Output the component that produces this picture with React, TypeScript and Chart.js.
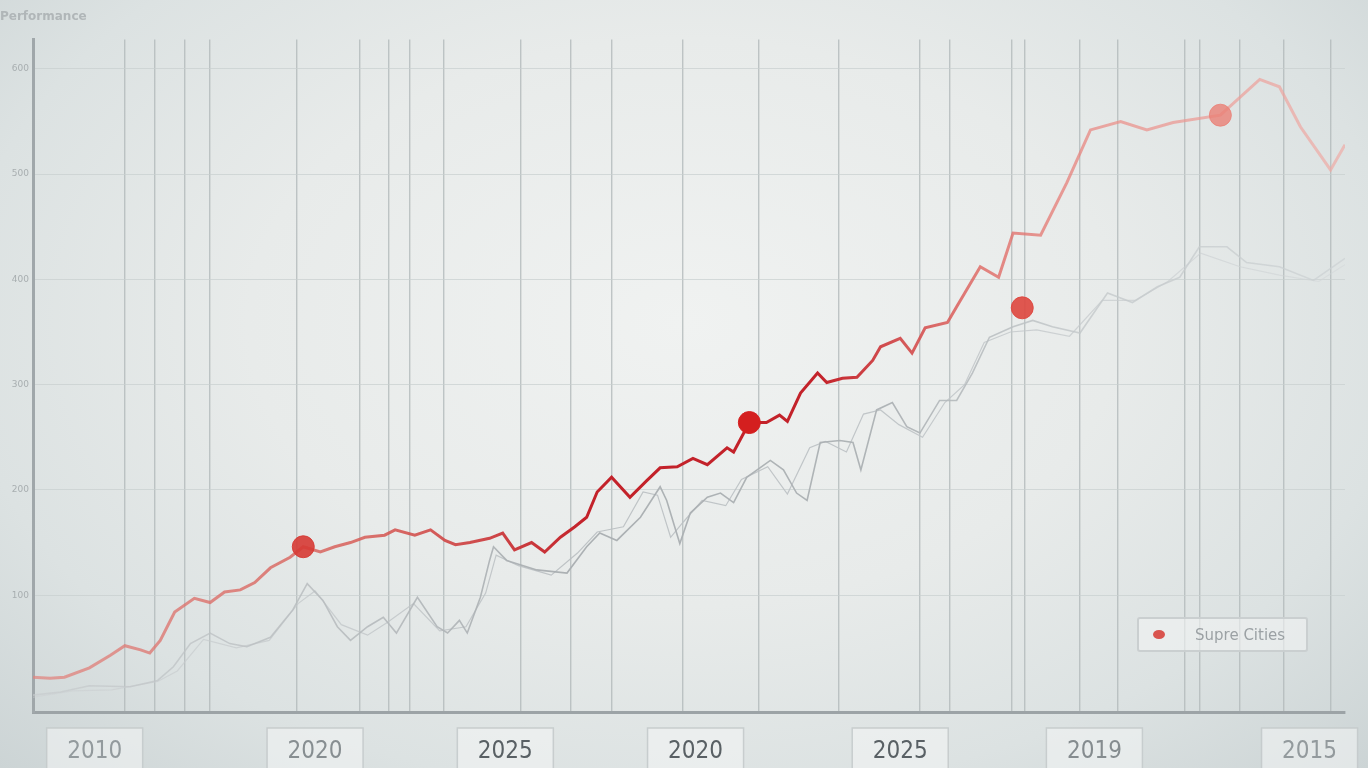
import React, { useEffect, useRef } from "react";
import { Chart, registerables } from "chart.js";

Chart.register(...registerables);

const seriesLabel = "Supre Cities";
const chartTitle = "Performance";

// x positions in a 0–100 time index, y values in index points
const redX = [0, 1.3, 2.4, 4.3, 5.9, 7.0, 8.2, 8.9, 9.7, 10.8, 12.3, 13.5, 14.6, 15.8, 16.9, 18.1, 19.6, 20.6, 21.9, 23.0, 24.2, 25.3, 26.8, 27.6, 29.1, 30.3, 31.4, 32.2, 33.3, 34.8, 35.8, 36.7, 38.0, 39.0, 40.2, 41.3, 42.2, 43.0, 44.1, 45.5, 46.8, 47.8, 49.1, 50.3, 51.4, 52.9, 53.4, 54.6, 55.9, 56.9, 57.5, 58.5, 59.8, 60.5, 61.7, 62.8, 64.0, 64.6, 66.1, 67.0, 68.0, 69.7, 70.4, 72.2, 73.6, 74.7, 76.8, 78.8, 80.6, 82.9, 84.9, 86.9, 90.5, 93.5, 95.0, 96.6, 98.9, 100];
const redY = [22, 21, 22, 31, 43, 52, 48, 45, 57, 84, 97, 93, 103, 105, 112, 126, 136, 146, 141, 146, 150, 155, 157, 162, 157, 162, 152, 148, 150, 154, 159, 143, 150, 141, 155, 165, 174, 198, 212, 193, 209, 221, 222, 230, 224, 240, 236, 264, 264, 271, 265, 292, 311, 302, 306, 307, 323, 336, 344, 330, 354, 359, 374, 412, 402, 444, 442, 492, 542, 550, 542, 549, 556, 590, 583, 545, 504, 528];

const grayX = [0, 2.1, 4.3, 7.4, 9.5, 10.7, 12.0, 13.5, 15.0, 16.3, 18.1, 19.8, 20.9, 22.1, 23.2, 24.2, 25.5, 26.7, 27.7, 29.3, 30.8, 31.6, 32.5, 33.1, 34.1, 34.8, 35.1, 36.1, 38.4, 40.7, 42.2, 43.2, 44.5, 46.3, 47.8, 48.3, 49.3, 50.1, 51.4, 52.4, 53.4, 54.4, 56.2, 57.2, 58.2, 59.0, 60.0, 61.5, 62.5, 63.1, 64.3, 65.5, 66.6, 67.6, 69.1, 70.4, 71.6, 72.9, 74.7, 76.2, 77.7, 79.8, 81.9, 83.8, 85.7, 87.4, 88.9, 91.0, 92.5, 95.0, 97.6, 100];
const grayY = [5, 8, 14, 13, 19, 32, 54, 64, 54, 51, 60, 86, 111, 95, 70, 57, 70, 79, 64, 98, 70, 64, 76, 64, 98, 133, 146, 133, 124, 121, 146, 159, 152, 174, 203, 190, 149, 178, 193, 197, 188, 212, 228, 219, 197, 190, 245, 247, 245, 219, 276, 283, 260, 254, 285, 285, 311, 345, 355, 361, 355, 349, 387, 378, 393, 402, 431, 431, 416, 412, 399, 420];

const gray2X = [0, 3, 6, 9.5, 11, 13, 15.5, 18, 20.2, 21.5, 23.5, 25.5, 27, 29, 31, 33, 34.5, 35.3, 37, 39.5, 41.5, 43, 45, 46.5, 47.6, 48.6, 49.6, 51, 52.8, 54, 56, 57.5, 59.2, 60.4, 62, 63.3, 64.6, 66, 67.8, 69.5, 71, 72.5, 74.5, 76.5, 79, 81.5, 84, 86.5, 89, 92, 95, 98, 100];
const gray2Y = [3, 9, 10, 18, 28, 58, 50, 57, 92, 104, 72, 62, 74, 92, 66, 70, 102, 138, 128, 119, 140, 160, 165, 198, 195, 155, 170, 190, 185, 210, 222, 196, 240, 246, 236, 272, 276, 262, 250, 283, 300, 340, 350, 352, 346, 380, 380, 398, 425, 412, 404, 398, 414];

const markerX = [20.6, 54.6, 75.4, 90.5];
const markerY = [146, 264, 373, 556];
const markerColors = ["rgba(214,58,52,0.9)", "#d41f1f", "rgba(222,70,62,0.9)", "rgba(234,128,118,0.8)"];

const gridX = [7.0, 9.3, 11.6, 13.5, 20.1, 24.9, 27.1, 28.7, 31.3, 37.2, 41.0, 44.1, 49.5, 55.3, 61.4, 67.6, 69.9, 74.6, 75.6, 79.8, 82.7, 87.8, 88.9, 92.0, 95.3, 98.9];
const labelX = [4.7, 21.5, 36.0, 50.5, 66.1, 80.9, 97.3];
const xLabels = ["2010", "2020", "2025", "2020", "2025", "2019", "2015"];
const xLabelColors = ["#939a9d", "#878e91", "#596064", "#596064", "#596064", "#858c8f", "#939a9d"];
const yTicks = [100, 200, 300, 400, 500, 600];

const toPts = (xs: number[], ys: number[]) => xs.map((x, i) => ({ x, y: ys[i] }));

function fadeGradient(chart: any, stops: [number, string][], fallback: string) {
  const area = chart.chartArea;
  if (!area) return fallback;
  const g = chart.ctx.createLinearGradient(area.left, 0, area.right, 0);
  stops.forEach(([o, c]) => g.addColorStop(o, c));
  return g;
}

const labelBoxes = {
  id: "labelBoxes",
  beforeDraw(chart: any) {
    const s = chart.scales.x2;
    if (!s) return;
    const ctx = chart.ctx;
    ctx.save();
    s.ticks.forEach((t: any) => {
      const x = s.getPixelForValue(t.value);
      ctx.fillStyle = "rgba(244,246,245,0.55)";
      ctx.strokeStyle = "rgba(196,202,203,0.9)";
      ctx.lineWidth = 1.5;
      ctx.beginPath();
      ctx.rect(x - 48, s.top + 16, 96, 44);
      ctx.fill();
      ctx.stroke();
    });
    ctx.restore();
  },
};

export default function App() {
  const ref = useRef<HTMLCanvasElement | null>(null);

  useEffect(() => {
    if (!ref.current) return;
    const chart = new Chart(ref.current, {
      type: "line",
      data: {
        datasets: [
          {
            label: "markers",
            data: toPts(markerX, markerY),
            showLine: false,
            pointRadius: 11,
            pointHoverRadius: 11,
            pointBackgroundColor: markerColors,
            pointBorderColor: markerColors,
            order: 0,
          } as any,
          {
            label: seriesLabel,
            data: toPts(redX, redY),
            borderWidth: 3,
            pointRadius: 0,
            tension: 0,
            borderColor: (c: any) =>
              fadeGradient(c.chart, [
                [0, "rgba(226,132,126,0.72)"],
                [0.25, "rgba(214,88,82,0.82)"],
                [0.42, "#c3222a"],
                [0.6, "#c3222a"],
                [0.72, "rgba(222,100,95,0.8)"],
                [0.82, "rgba(234,140,134,0.72)"],
                [1, "rgba(240,168,162,0.65)"],
              ], "#c3222a"),
            order: 1,
          } as any,
          {
            label: "gray1",
            data: toPts(grayX, grayY),
            borderWidth: 1.6,
            pointRadius: 0,
            tension: 0,
            borderColor: (c: any) =>
              fadeGradient(c.chart, [
                [0, "rgba(200,204,206,0.7)"],
                [0.4, "rgba(168,173,176,0.95)"],
                [0.65, "rgba(172,177,180,0.95)"],
                [0.8, "rgba(195,200,202,0.8)"],
                [1, "rgba(205,210,212,0.75)"],
              ], "#b0b5b8"),
            order: 2,
          } as any,
          {
            label: "gray2",
            data: toPts(gray2X, gray2Y),
            borderWidth: 1.2,
            pointRadius: 0,
            tension: 0,
            borderColor: (c: any) =>
              fadeGradient(c.chart, [
                [0, "rgba(205,209,211,0.6)"],
                [0.4, "rgba(185,190,193,0.9)"],
                [0.65, "rgba(188,193,196,0.9)"],
                [1, "rgba(210,214,216,0.55)"],
              ], "#bcc1c4"),
            order: 3,
          } as any,
        ],
      },
      options: {
        responsive: false,
        animation: false,
        layout: { padding: { left: 0, right: 23, top: 0, bottom: 0 } },
        plugins: {
          legend: { display: false },
          tooltip: { enabled: false },
          title: {
            display: true,
            text: chartTitle,
            align: "start",
            color: "#b0b6b8",
            font: { family: "DejaVu Sans", size: 12 },
            padding: { top: 10, bottom: 15 },
          },
        },
        scales: {
          x: {
            type: "linear",
            min: 0,
            max: 100,
            afterBuildTicks: (s: any) => {
              s.ticks = gridX.map((v) => ({ value: v }));
            },
            afterFit: (s: any) => {
              s.height = 0;
            },
            ticks: { display: false },
            grid: { color: "rgba(178,185,186,0.8)", lineWidth: 1.4, drawTicks: false },
            border: { color: "#9ca3a6", width: 3 },
          },
          x2: {
            type: "linear",
            position: "bottom",
            min: 0,
            max: 100,
            afterBuildTicks: (s: any) => {
              s.ticks = labelX.map((v) => ({ value: v }));
            },
            afterFit: (s: any) => {
              s.height = 56;
            },
            grid: { display: false },
            border: { display: false },
            ticks: {
              autoSkip: false,
              maxRotation: 0,
              padding: 17,
              color: xLabelColors,
              font: { family: "DejaVu Sans Condensed", size: 24 },
              callback: (_v: any, i: number) => xLabels[i],
            },
          } as any,
          y: {
            type: "linear",
            min: -11,
            max: 628,
            afterBuildTicks: (s: any) => {
              s.ticks = yTicks.map((v) => ({ value: v }));
            },
            afterFit: (s: any) => {
              s.width = 33;
            },
            ticks: {
              color: "#a8aeb0",
              font: { family: "DejaVu Sans", size: 9 },
              padding: 4,
            },
            grid: { color: "rgba(200,206,206,0.7)", lineWidth: 1, drawTicks: false },
            border: { color: "#a0a7aa", width: 3 },
          },
        },
      },
      plugins: [labelBoxes],
    } as any);
    return () => chart.destroy();
  }, []);

  return (
    <div
      style={{
        position: "fixed",
        left: 0,
        top: 0,
        width: 1368,
        height: 768,
        background:
          "radial-gradient(ellipse at 50% 42%, #f0f2f1 0%, #e8ebea 45%, #dce2e2 75%, #ccd4d5 100%)",
        overflow: "hidden",
      }}
    >
      <canvas ref={ref} width={1368} height={768} style={{ display: "block" }} />
      <div
        style={{
          position: "absolute",
          left: 1137,
          top: 617,
          width: 171,
          height: 35,
          boxSizing: "border-box",
          border: "2px solid rgba(200,206,207,0.95)",
          borderRadius: 3,
          background: "rgba(242,244,243,0.6)",
          display: "flex",
          alignItems: "center",
          fontFamily: "'DejaVu Sans', sans-serif",
          fontSize: 15,
          color: "#9ba1a4",
        }}
      >
        <span
          style={{
            display: "inline-block",
            width: 12,
            height: 9,
            borderRadius: "50%",
            background: "#d9544e",
            marginLeft: 14,
            marginRight: 30,
          }}
        />
        <span>{seriesLabel}</span>
      </div>
    </div>
  );
}
